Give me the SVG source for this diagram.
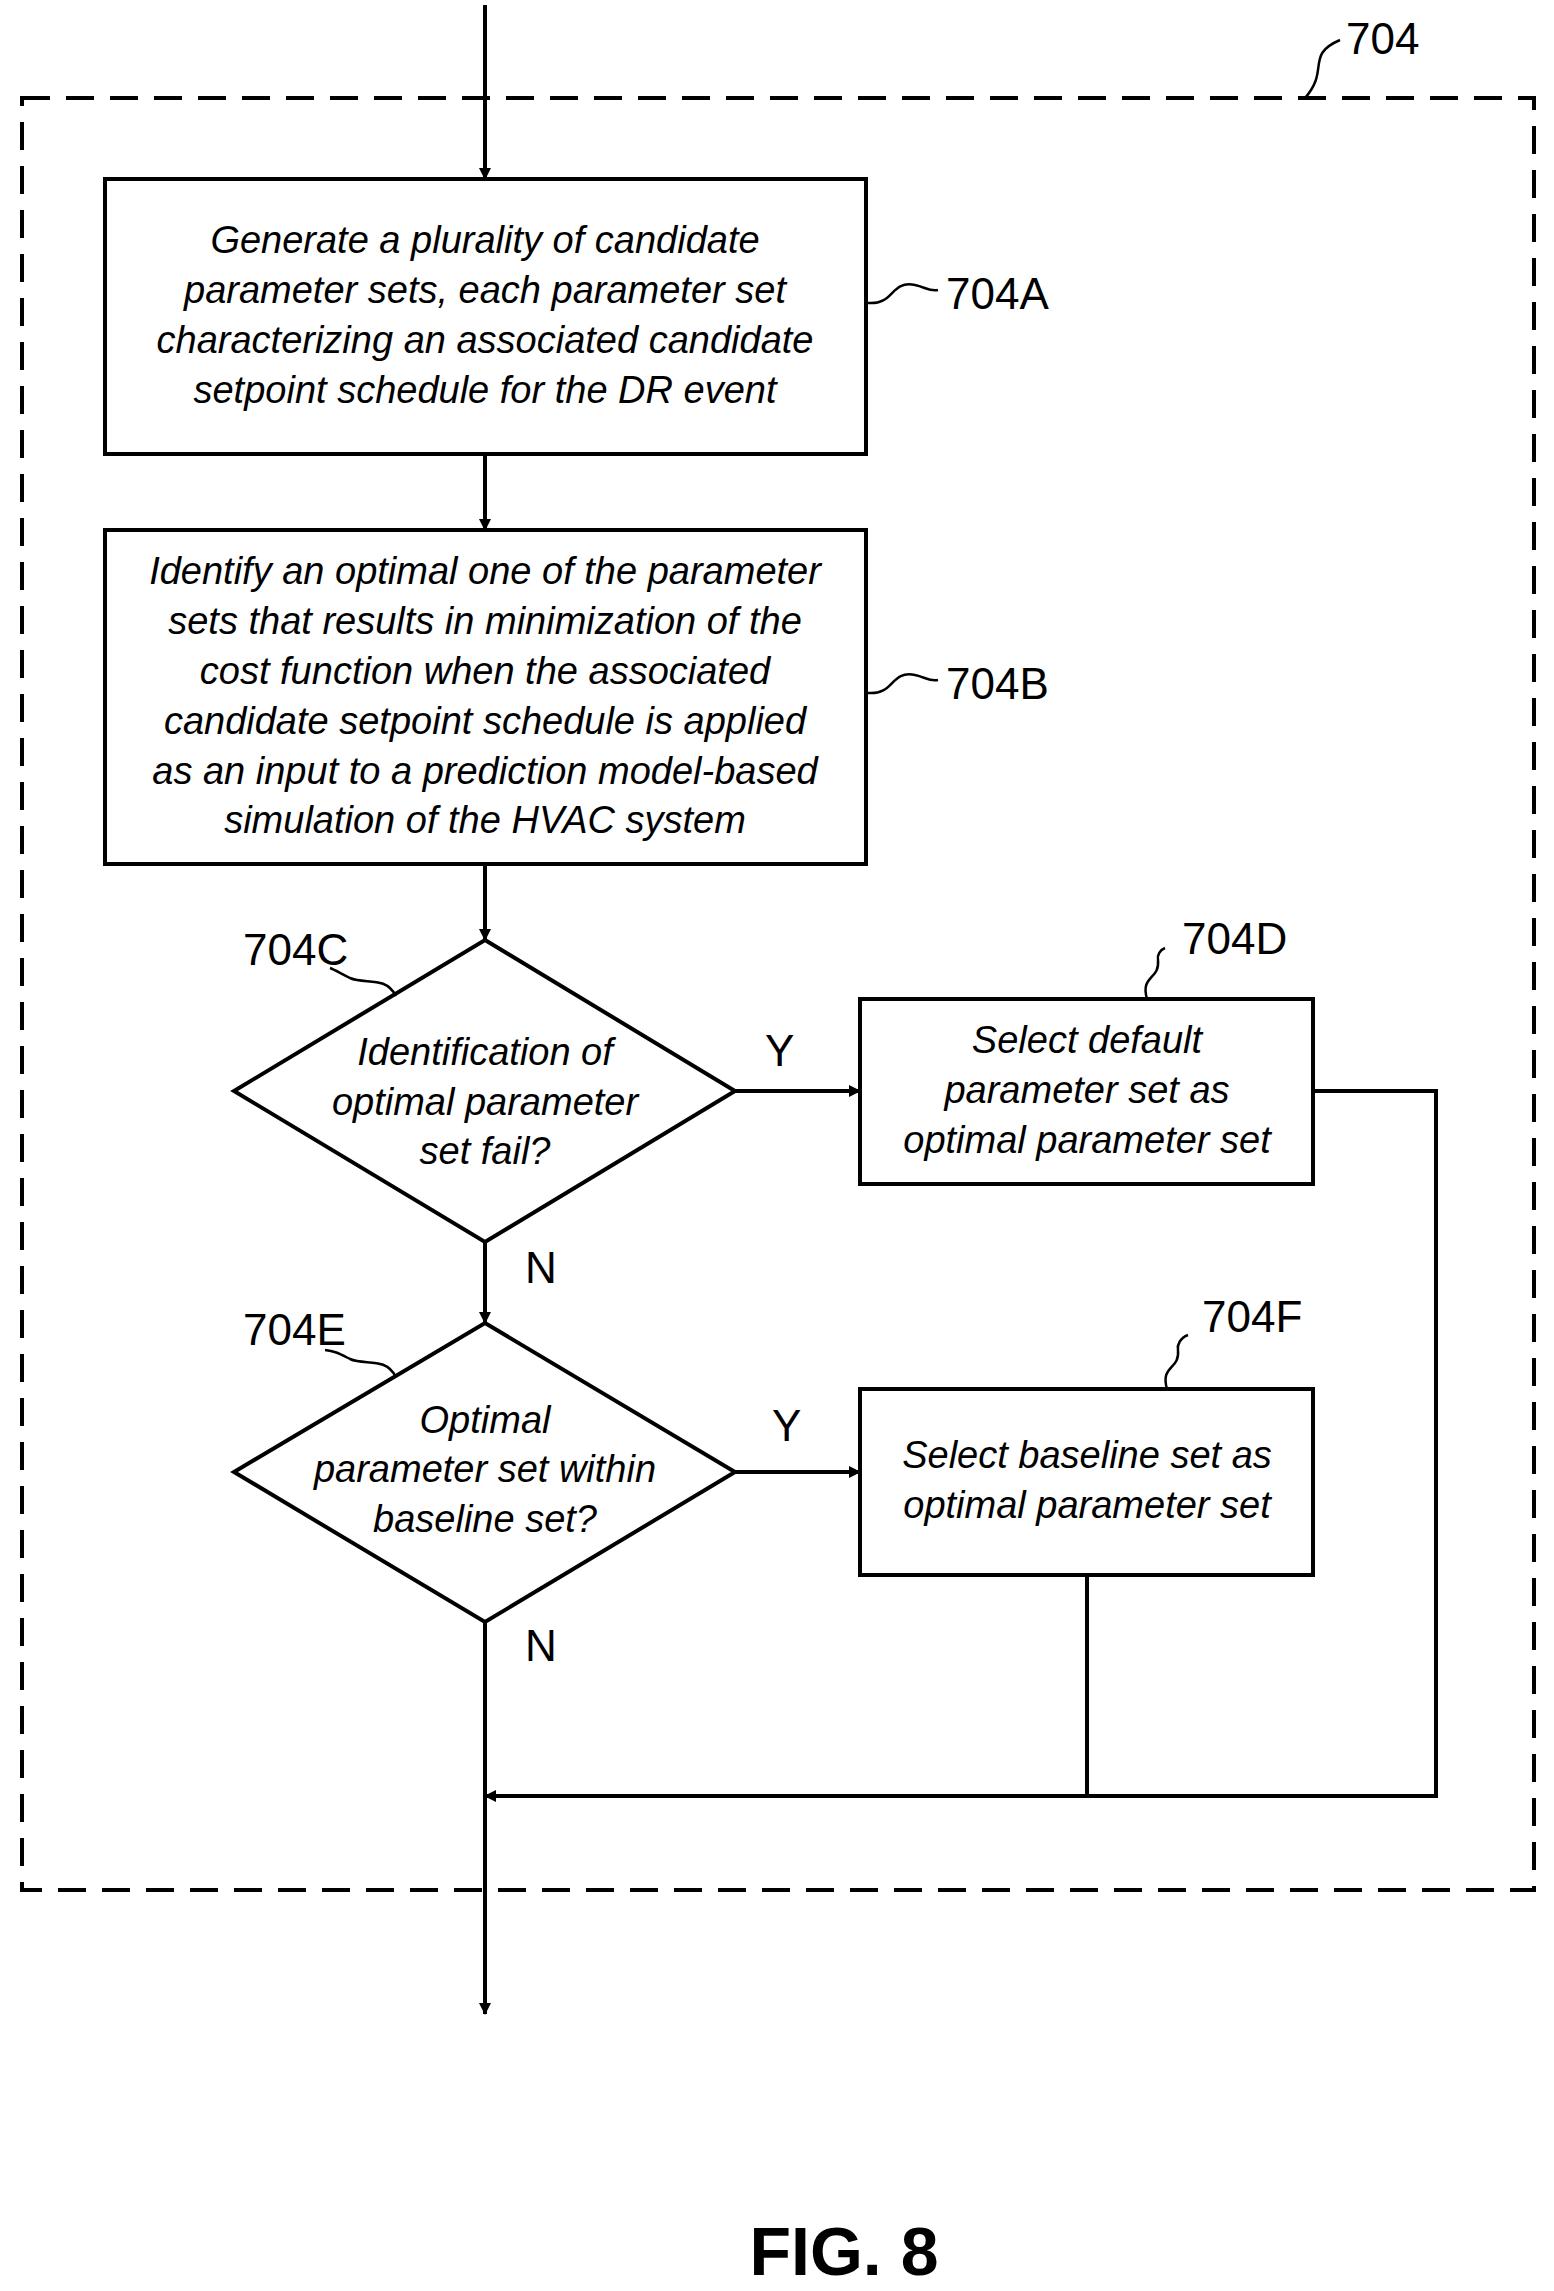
<svg xmlns="http://www.w3.org/2000/svg" width="1554" height="2291" viewBox="0 0 1554 2291">
<defs>
<marker id="ah" markerWidth="12" markerHeight="12" refX="11" refY="6" orient="auto" markerUnits="userSpaceOnUse" viewBox="0 0 12 12"><path d="M0,0 L12,6 L0,12 z" fill="#000"/></marker>
<style>
.n{fill:#fff;stroke:#000;stroke-width:4}
.t{font-family:"Liberation Sans",Arial,sans-serif;font-style:italic;font-size:38px;text-anchor:middle}
.l{font-family:"Liberation Sans",Arial,sans-serif;font-size:44px}
.c{fill:none;stroke:#000;stroke-width:4}
.s{fill:none;stroke:#000;stroke-width:2.5}
</style>
</defs>
<rect width="1554" height="2291" fill="#fff"/>
<g id="group704">
<rect x="22" y="98" width="1512" height="1792" fill="none" stroke="#000" stroke-width="4" stroke-dasharray="28,16"/>
<path class="s" d="M1305,98 C1330,70 1305,55 1340,40"/>
<text class="l" x="1346" y="54">704</text>
</g>
<g id="connectors">
<line class="c" x1="485" y1="5" x2="485" y2="179" marker-end="url(#ah)"/>
<line class="c" x1="485" y1="454" x2="485" y2="530" marker-end="url(#ah)"/>
<line class="c" x1="485" y1="864" x2="485" y2="940" marker-end="url(#ah)"/>
<line class="c" x1="735" y1="1091" x2="860" y2="1091" marker-end="url(#ah)"/>
<line class="c" x1="485" y1="1242" x2="485" y2="1323" marker-end="url(#ah)"/>
<line class="c" x1="735" y1="1472" x2="860" y2="1472" marker-end="url(#ah)"/>
<polyline class="c" points="1313,1091 1436,1091 1436,1796 485,1796" marker-end="url(#ah)"/>
<line class="c" x1="1087" y1="1575" x2="1087" y2="1796"/>
<line class="c" x1="485" y1="1622" x2="485" y2="2014" marker-end="url(#ah)"/>
<text class="l" x="765" y="1066">Y</text>
<text class="l" x="772" y="1441">Y</text>
<text class="l" x="525" y="1283">N</text>
<text class="l" x="525" y="1661">N</text>
</g>
<g id="n704A">
<rect class="n" x="105" y="179" width="761" height="275"/>
<text class="t" x="485" y="253">Generate a plurality of candidate</text>
<text class="t" x="485" y="303">parameter sets, each parameter set</text>
<text class="t" x="485" y="353">characterizing an associated candidate</text>
<text class="t" x="485" y="403">setpoint schedule for the DR event</text>
<path class="s" d="M868,303 C895,305 890,280 915,285 C925,287 930,292 938,290"/>
<text class="l" x="946" y="309">704A</text>
</g>
<g id="n704B">
<rect class="n" x="105" y="530" width="761" height="334"/>
<text class="t" x="485" y="584">Identify an optimal one of the parameter</text>
<text class="t" x="485" y="634">sets that results in minimization of the</text>
<text class="t" x="485" y="684">cost function when the associated</text>
<text class="t" x="485" y="734">candidate setpoint schedule is applied</text>
<text class="t" x="485" y="784">as an input to a prediction model-based</text>
<text class="t" x="485" y="833">simulation of the HVAC system</text>
<path class="s" d="M868,693 C895,695 890,670 915,675 C925,677 930,682 938,680"/>
<text class="l" x="946" y="699">704B</text>
</g>
<g id="n704C">
<polygon class="n" points="485,940 735,1091 485,1242 234,1091"/>
<text class="t" x="485" y="1065">Identification of</text>
<text class="t" x="485" y="1115">optimal parameter</text>
<text class="t" x="485" y="1164">set fail?</text>
<path class="s" d="M396,996 C385,975 365,985 350,978 C340,973 335,970 330,968"/>
<text class="l" x="243" y="965">704C</text>
</g>
<g id="n704D">
<rect class="n" x="860" y="999" width="453" height="185"/>
<text class="t" x="1087" y="1053">Select default</text>
<text class="t" x="1087" y="1103">parameter set as</text>
<text class="t" x="1087" y="1153">optimal parameter set</text>
<path class="s" d="M1147,999 C1140,975 1160,980 1158,960 C1157,955 1160,950 1165,948"/>
<text class="l" x="1182" y="954">704D</text>
</g>
<g id="n704E">
<polygon class="n" points="485,1323 735,1472 485,1622 234,1472"/>
<text class="t" x="485" y="1433">Optimal</text>
<text class="t" x="485" y="1482">parameter set within</text>
<text class="t" x="485" y="1532">baseline set?</text>
<path class="s" d="M396,1377 C385,1356 365,1366 350,1359 C340,1354 335,1351 325,1350"/>
<text class="l" x="243" y="1345">704E</text>
</g>
<g id="n704F">
<rect class="n" x="860" y="1389" width="453" height="186"/>
<text class="t" x="1087" y="1468">Select baseline set as</text>
<text class="t" x="1087" y="1518">optimal parameter set</text>
<path class="s" d="M1167,1389 C1160,1365 1180,1370 1178,1350 C1177,1345 1180,1338 1188,1335"/>
<text class="l" x="1202" y="1332">704F</text>
</g>
<text x="844" y="2275" font-family="Liberation Sans,Arial,sans-serif" font-weight="bold" font-size="68" text-anchor="middle">FIG. 8</text>
</svg>
